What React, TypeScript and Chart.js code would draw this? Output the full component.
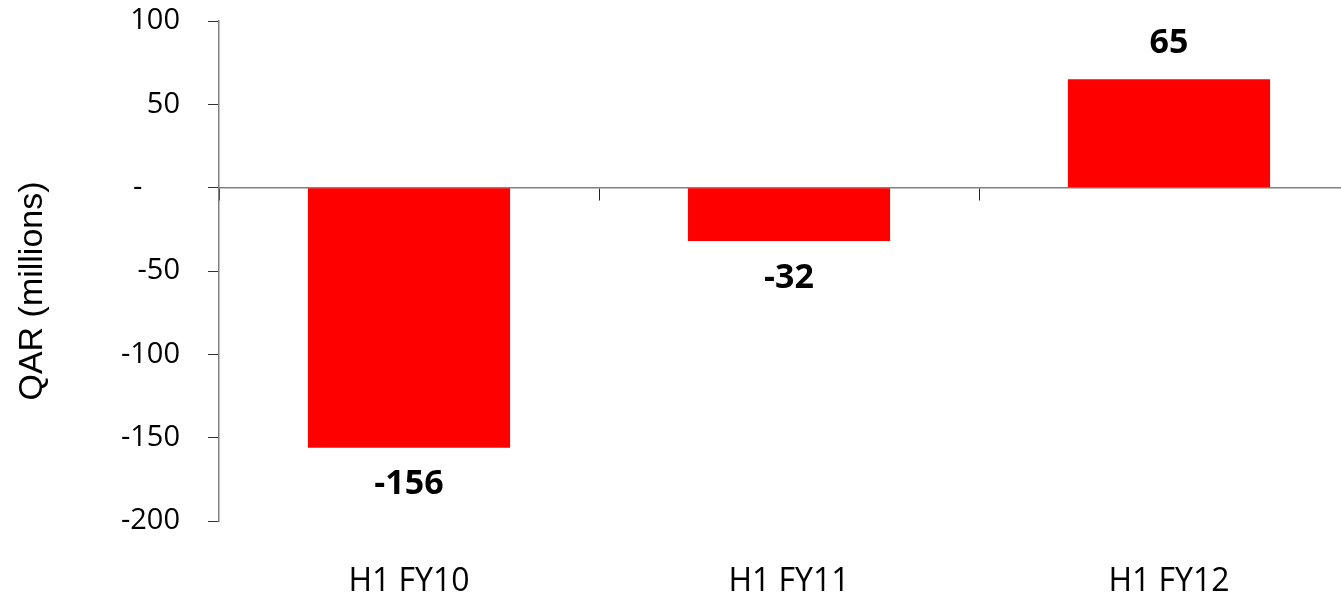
import React, { useEffect, useRef } from "react";
import { Chart, registerables } from "chart.js";

Chart.register(...registerables);

const categories = ["H1 FY10", "H1 FY11", "H1 FY12"];
const netResult = [-156, -32, 65];
const yTickValues = [-200, -150, -100, -50, 0, 50, 100];
const axisTitle = "QAR (millions)";

// Draws the value above/below each bar end.
const valueLabels = {
  id: "valueLabels",
  afterDatasetsDraw(chart: any) {
    const { ctx } = chart;
    const meta = chart.getDatasetMeta(0);
    const values = chart.data.datasets[0].data as number[];
    ctx.save();
    ctx.font = "bold 34px 'Open Sans'";
    ctx.fillStyle = "#000";
    ctx.textAlign = "center";
    ctx.textBaseline = "middle";
    meta.data.forEach((bar: any, i: number) => {
      const v = values[i];
      const y = v >= 0 ? bar.y - 36 : bar.y + 37;
      ctx.fillText(String(v), bar.x, y);
    });
    ctx.restore();
  },
};

// Rotated y-axis title.
const yTitle = {
  id: "yTitle",
  afterDraw(chart: any) {
    const { ctx } = chart;
    ctx.save();
    ctx.translate(33, 291);
    ctx.rotate(-Math.PI / 2);
    ctx.font = "34px 'Liberation Sans'";
    ctx.fillStyle = "#000";
    ctx.textAlign = "center";
    ctx.textBaseline = "middle";
    ctx.fillText(axisTitle, 0, 0);
    ctx.restore();
  },
};

export default function App() {
  const canvasRef = useRef<HTMLCanvasElement | null>(null);

  useEffect(() => {
    if (!canvasRef.current) return;
    const chart = new Chart(canvasRef.current, {
      type: "bar",
      data: {
        labels: categories,
        datasets: [
          {
            data: netResult,
            backgroundColor: "#FF0000",
            borderWidth: 0,
            barPercentage: 0.532,
            categoryPercentage: 1,
            xAxisID: "x",
            yAxisID: "y",
          },
        ],
      },
      options: {
        animation: false,
        responsive: false,
        layout: { padding: { top: 0, left: 0, right: 0, bottom: 0 } },
        plugins: {
          legend: { display: false },
          tooltip: { enabled: false },
        },
        scales: {
          x: {
            type: "category",
            position: "bottom",
            offset: true,
            grid: { display: false, drawTicks: false },
            border: { display: false },
            ticks: {
              color: "#000",
              font: { family: "'Open Sans'", size: 32 },
              padding: 42,
              maxRotation: 0,
            },
            afterFit(scale: any) {
              scale.height = 77;
            },
          },
          zero: {
            type: "category",
            axis: "x",
            position: { y: 0 },
            offset: true,
            grid: {
              offset: true,
              drawOnChartArea: false,
              tickLength: 12,
              color: "#222",
              lineWidth: 1,
            },
            border: { display: true, color: "#808080", width: 1.5 },
            ticks: { display: false },
          },
          y: {
            type: "linear",
            min: -200,
            max: 100,
            afterBuildTicks(scale: any) {
              scale.ticks = yTickValues.map((value) => ({ value }));
            },
            grid: {
              drawOnChartArea: false,
              tickLength: 11,
              color: "#333",
              lineWidth: 1,
            },
            border: { display: true, color: "#808080", width: 1.5 },
            ticks: {
              color: "#000",
              font: { family: "'Open Sans'", size: 29 },
              padding: 28,
              callback: (v: any) => (Number(v) === 0 ? "-     " : String(v)),
            },
            afterFit(scale: any) {
              scale.width = 219;
              scale.paddingTop = 21;
              scale.paddingBottom = 0;
            },
          },
        },
      },
      plugins: [valueLabels, yTitle],
    });
    return () => chart.destroy();
  }, []);

  return (
    <div
      style={{
        position: "fixed",
        left: 0,
        top: 0,
        width: 1341,
        height: 598,
        overflow: "hidden",
        background: "#fff",
      }}
    >
      <canvas ref={canvasRef} width={1359} height={598} style={{ display: "block" }} />
    </div>
  );
}
